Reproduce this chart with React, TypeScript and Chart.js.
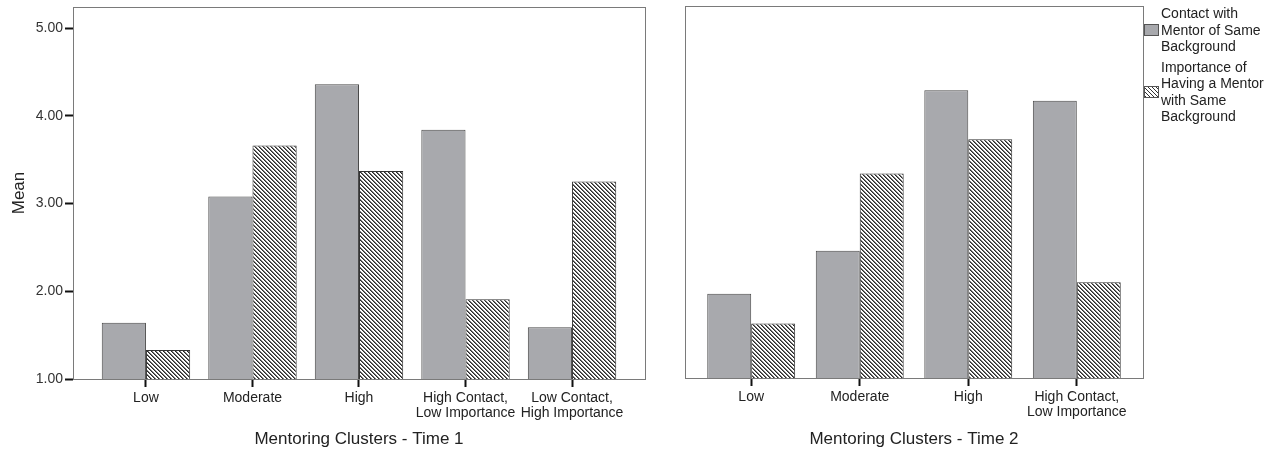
import React, { useEffect, useRef } from 'react';
import { Chart, registerables } from 'chart.js';

Chart.register(...registerables);

// ---- Data ----
const categoriesT1: (string | string[])[] = [
  'Low',
  'Moderate',
  'High',
  ['High Contact,', 'Low Importance'],
  ['Low Contact,', 'High Importance'],
];
const contactT1 = [1.64, 3.08, 4.36, 3.84, 1.59];
const importanceT1 = [1.33, 3.66, 3.37, 1.91, 3.25];

const categoriesT2: (string | string[])[] = [
  'Low',
  'Moderate',
  'High',
  ['High Contact,', 'Low Importance'],
];
const contactT2 = [1.96, 2.45, 4.28, 4.16];
const importanceT2 = [1.62, 3.33, 3.72, 2.09];

const yTicks = [1, 2, 3, 4, 5];
const yTickLabels = ['1.00', '2.00', '3.00', '4.00', '5.00'];

const seriesNames = [
  ['Contact with', 'Mentor of Same', 'Background'],
  ['Importance of', 'Having a Mentor', 'with Same', 'Background'],
];

const FONT = '"Liberation Sans", Arial, sans-serif';
const GRAY_FILL = '#a8a9ad';
const TEXT = '#222';
const FRAME = '#7a7a7a';

function makeHatch(): CanvasPattern | string {
  const c = document.createElement('canvas');
  c.width = 4;
  c.height = 4;
  const ctx = c.getContext('2d');
  if (!ctx) return '#fff';
  ctx.fillStyle = '#fff';
  ctx.fillRect(0, 0, 4, 4);
  for (let i = 0; i < 4; i++) {
    ctx.fillStyle = '#2a2a2a';
    ctx.fillRect(i, i, 1, 1);
    ctx.fillStyle = '#777';
    ctx.fillRect((i + 1) % 4, i, 1, 1);
  }
  const p = ctx.createPattern(c, 'repeat');
  return p || '#fff';
}

const framePlugin = {
  id: 'frame',
  afterDatasetsDraw(chart: any) {
    const { ctx, chartArea } = chart;
    ctx.save();
    ctx.strokeStyle = FRAME;
    ctx.lineWidth = 1;
    ctx.strokeRect(
      Math.round(chartArea.left) + 0.5,
      Math.round(chartArea.top) + 0.5,
      Math.round(chartArea.right - chartArea.left),
      Math.round(chartArea.bottom - chartArea.top)
    );
    ctx.restore();
  },
};

function buildConfig(
  labels: (string | string[])[],
  contact: number[],
  importance: number[],
  title: string,
  xPad: number,
  catPct: number,
  showY: boolean,
  padding: any,
  xAxisHeight: number
): any {
  const hatch = makeHatch();
  return {
    type: 'bar',
    data: {
      datasets: [
        {
          label: seriesNames[0].join(' '),
          data: contact.map((v, i) => ({ x: i, y: v })),
          backgroundColor: GRAY_FILL,
          borderColor: '#4a4a4a',
          borderWidth: 1,
          borderSkipped: 'bottom',
          categoryPercentage: catPct,
          barPercentage: 1,
        },
        {
          label: seriesNames[1].join(' '),
          data: importance.map((v, i) => ({ x: i, y: v })),
          backgroundColor: hatch,
          borderColor: '#333',
          borderWidth: 1,
          borderSkipped: 'bottom',
          categoryPercentage: catPct,
          barPercentage: 1,
        },
      ],
    },
    options: {
      animation: false,
      responsive: false,
      maintainAspectRatio: false,
      layout: { padding },
      plugins: {
        legend: { display: false },
        tooltip: { enabled: false },
      },
      scales: {
        x: {
          type: 'linear',
          offset: false,
          min: -xPad,
          max: labels.length - 1 + xPad,
          afterBuildTicks: (scale: any) => {
            scale.ticks = labels.map((_, i) => ({ value: i }));
          },
          afterFit: (scale: any) => {
            scale.height = xAxisHeight;
            scale.paddingLeft = 0;
            scale.paddingRight = 0;
          },
          grid: {
            offset: false,
            drawOnChartArea: false,
            drawTicks: true,
            tickLength: 8,
            tickColor: '#111',
            tickWidth: 2,
          },
          border: { display: true, color: FRAME, width: 1 },
          ticks: {
            autoSkip: false,
            maxRotation: 0,
            minRotation: 0,
            padding: 3,
            color: TEXT,
            font: { family: FONT, size: 14, lineHeight: 1.1 },
            callback: (v: number) => labels[Math.round(v)] ?? '',
          },
          title: {
            display: true,
            text: title,
            color: TEXT,
            font: { family: FONT, size: 17 },
            padding: { top: 0, bottom: 2 },
          },
        },
        y: {
          type: 'linear',
          display: showY,
          min: 1,
          max: 5.24,
          afterBuildTicks: (scale: any) => {
            scale.ticks = yTicks.map((v) => ({ value: v }));
          },
          afterFit: (scale: any) => {
            scale.width = showY ? 73 : 0;
            scale.paddingTop = 0;
            scale.paddingBottom = 0;
          },
          grid: {
            drawOnChartArea: false,
            drawTicks: true,
            tickLength: 8,
            tickColor: '#111',
            tickWidth: 2,
          },
          border: { display: true, color: FRAME, width: 1 },
          ticks: {
            padding: 2,
            color: '#333',
            font: { family: FONT, size: 14 },
            callback: (v: number) => yTickLabels[yTicks.indexOf(v)] ?? '',
          },
          title: {
            display: showY,
            text: 'Mean',
            color: TEXT,
            font: { family: FONT, size: 17 },
            padding: { top: 9, bottom: 0 },
          },
        },
      },
    },
    plugins: [framePlugin],
  };
}

function Panel(props: {
  left: number;
  width: number;
  labels: (string | string[])[];
  contact: number[];
  importance: number[];
  title: string;
  xPad: number;
  catPct: number;
  showY: boolean;
  padding: any;
  xAxisHeight: number;
}) {
  const ref = useRef<HTMLCanvasElement | null>(null);
  useEffect(() => {
    if (!ref.current) return;
    const chart = new Chart(
      ref.current,
      buildConfig(
        props.labels,
        props.contact,
        props.importance,
        props.title,
        props.xPad,
        props.catPct,
        props.showY,
        props.padding,
        props.xAxisHeight
      )
    );
    return () => chart.destroy();
  }, []);
  return (
    <canvas
      ref={ref}
      width={props.width}
      height={452}
      style={{ position: 'absolute', left: props.left, top: 0, width: props.width, height: 452 }}
    />
  );
}

export default function App() {
  const hatchCss =
    'repeating-linear-gradient(45deg, #333 0px, #333 1.3px, #fff 1.3px, #fff 2.83px)';
  return (
    <div
      style={{
        position: 'fixed',
        left: 0,
        top: 0,
        width: 1281,
        height: 452,
        background: '#fff',
        overflow: 'hidden',
      }}
    >
      <Panel
        left={0}
        width={660}
        labels={categoriesT1}
        contact={contactT1}
        importance={importanceT1}
        title="Mentoring Clusters - Time 1"
        xPad={0.685}
        catPct={0.83}
        showY={true}
        padding={{ top: 7, right: 15, left: 0, bottom: 0 }}
        xAxisHeight={73}
      />
      <Panel
        left={660}
        width={490}
        labels={categoriesT2}
        contact={contactT2}
        importance={importanceT2}
        title="Mentoring Clusters - Time 2"
        xPad={0.61}
        catPct={0.81}
        showY={false}
        padding={{ top: 6, right: 7, left: 25, bottom: 0 }}
        xAxisHeight={74}
      />
      <div
        style={{
          position: 'absolute',
          left: 1144,
          top: 5,
          fontFamily: FONT,
          fontSize: 14,
          lineHeight: '16.5px',
          color: TEXT,
        }}
      >
        {seriesNames.map((lines, i) => (
          <div
            key={i}
            style={{ display: 'flex', alignItems: 'center', marginBottom: 4 }}
          >
            <div
              style={{
                width: 15,
                height: 12,
                boxSizing: 'border-box',
                border: '1px solid #555',
                background: i === 0 ? GRAY_FILL : hatchCss,
                marginRight: 2,
                flex: '0 0 auto',
              }}
            />
            <div style={{ whiteSpace: 'nowrap' }}>
              {lines.map((l, j) => (
                <div key={j}>{l}</div>
              ))}
            </div>
          </div>
        ))}
      </div>
    </div>
  );
}
